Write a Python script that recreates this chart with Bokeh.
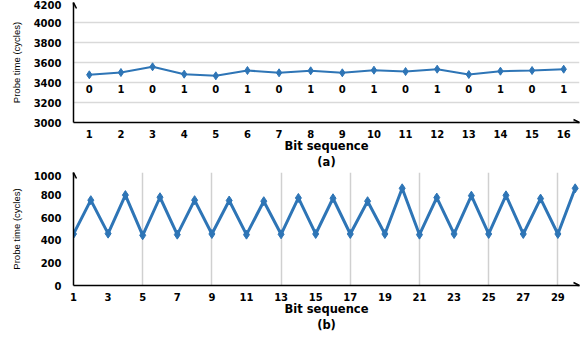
from bokeh.plotting import figure
from bokeh.layouts import column
from bokeh.models import Range1d, FixedTicker, Arrow, OpenHead, ColumnDataSource
from bokeh.core.properties import value
from bokeh.embed import file_html
from bokeh.resources import INLINE

# ---- data (a) ----
bits_a = list(range(1, 17))
probe_a = [3477, 3500, 3557, 3483, 3467, 3520, 3497, 3517, 3497, 3523, 3510, 3533, 3480, 3513, 3520, 3533]
bit_values_a = ["0", "1", "0", "1", "0", "1", "0", "1", "0", "1", "0", "1", "0", "1", "0", "1"]
y_ticks_a = [3000, 3200, 3400, 3600, 3800, 4000, 4200]

# ---- data (b) ----
bits_b = list(range(1, 31))
probe_b = [456, 755, 459, 800, 444, 781, 450, 755, 456, 752, 450, 746, 453, 775, 456,
           772, 456, 746, 456, 860, 450, 778, 456, 795, 456, 798, 456, 769, 456, 860]
y_ticks_b = [0, 200, 400, 600, 800, 1000]
x_ticks_b = [1, 3, 5, 7, 9, 11, 13, 15, 17, 19, 21, 23, 25, 27, 29]
x_grid_b = [5, 9, 13, 17, 21, 25, 29]

BLUE = "#2E75B6"
TICK_FONT = "DejaVu Sans"
LABEL_Y = 3335  # row of bit labels in panel (a)


def style(p, sub):
    p.outline_line_color = None
    p.background_fill_color = "white"
    p.border_fill_color = "white"
    for ax in (p.xaxis[0], p.yaxis[0]):
        ax.axis_line_color = "black"
        ax.axis_line_width = 1.5
        ax.major_tick_line_color = None
        ax.minor_tick_line_color = None
        ax.major_tick_out = 0
        ax.major_tick_in = 0
        ax.major_label_text_font = TICK_FONT
        ax.major_label_text_font_style = "bold"
        ax.major_label_text_font_size = "10px"
        ax.major_label_text_color = "black"
    p.yaxis[0].major_label_standoff = 12
    p.yaxis[0].axis_label = "Probe time (cycles)"
    p.yaxis[0].axis_label_text_font = "Liberation Sans"
    p.yaxis[0].axis_label_text_font_style = "normal"
    p.yaxis[0].axis_label_text_font_size = "9.5px"
    p.yaxis[0].axis_label_text_color = "black"
    p.yaxis[0].axis_label_standoff = 9
    p.xaxis[0].major_label_standoff = 7
    p.xaxis[0].axis_label = "Bit sequence\n" + sub
    p.xaxis[0].axis_label_text_font = TICK_FONT
    p.xaxis[0].axis_label_text_font_style = "bold"
    p.xaxis[0].axis_label_text_font_size = "11.5px"
    p.xaxis[0].axis_label_text_color = "black"
    p.xaxis[0].axis_label_text_line_height = 1.15
    p.xaxis[0].axis_label_standoff = -2


# ---------- panel (a) ----------
pa = figure(width=584, height=171, output_backend="svg", toolbar_location=None,
            x_range=Range1d(0.5, 16.5), y_range=Range1d(3000, 4200),
            min_border_left=73, min_border_right=0, min_border_top=2, min_border_bottom=40)
style(pa, "(a)")
pa.xaxis[0].ticker = FixedTicker(ticks=bits_a)
pa.yaxis[0].ticker = FixedTicker(ticks=y_ticks_a)
pa.xgrid.visible = False
pa.ygrid.ticker = FixedTicker(ticks=y_ticks_a)
pa.ygrid.grid_line_color = "#D9D9D9"
pa.ygrid.grid_line_width = 1.5

src_a = ColumnDataSource(dict(x=bits_a, y=probe_a, t=bit_values_a, ly=[LABEL_Y] * len(bits_a)))
pa.line("x", "y", source=src_a, line_color=BLUE, line_width=2)
pa.scatter("x", "y", source=src_a, marker="diamond", size=8, fill_color=BLUE, line_color=BLUE)
pa.text("x", "ly", text="t", source=src_a, text_font=value(TICK_FONT), text_font_style="bold",
        text_font_size="10px", text_align="center", text_baseline="middle", text_color="black")
pa.add_layout(Arrow(end=OpenHead(size=6, line_width=1.5, line_color="black"), line_width=1.5,
                    x_start=0.5, y_start=4150, x_end=0.5, y_end=4200, line_color="black"))
pa.add_layout(Arrow(end=OpenHead(size=6, line_width=1.5, line_color="black"), line_width=1.5,
                    x_start=16.3, y_start=3000, x_end=16.5, y_end=3000, line_color="black"))

# ---------- panel (b) ----------
pb = figure(width=584, height=163, output_backend="svg", toolbar_location=None,
            x_range=Range1d(1, 30.25), y_range=Range1d(0, 1000),
            min_border_left=73, min_border_right=5, min_border_top=1, min_border_bottom=44)
style(pb, "(b)")
pb.xaxis[0].ticker = FixedTicker(ticks=x_ticks_b)
pb.yaxis[0].ticker = FixedTicker(ticks=y_ticks_b)
pb.ygrid.visible = False
pb.xgrid.ticker = FixedTicker(ticks=x_grid_b)
pb.xgrid.grid_line_color = "#D0D0D0"
pb.xgrid.grid_line_width = 1.5

src_b = ColumnDataSource(dict(x=bits_b, y=probe_b))
pb.line("x", "y", source=src_b, line_color=BLUE, line_width=3)
pb.scatter("x", "y", source=src_b, marker="diamond", size=9, fill_color=BLUE, line_color=BLUE)
pb.add_layout(Arrow(end=OpenHead(size=6, line_width=1.5, line_color="black"), line_width=1.5,
                    x_start=1, y_start=950, x_end=1, y_end=1000, line_color="black"))
pb.add_layout(Arrow(end=OpenHead(size=6, line_width=1.5, line_color="black"), line_width=1.5,
                    x_start=30.0, y_start=0, x_end=30.25, y_end=0, line_color="black"))

layout = column(pa, pb, spacing=0)
open("out.html", "w").write(file_html(layout, INLINE))
